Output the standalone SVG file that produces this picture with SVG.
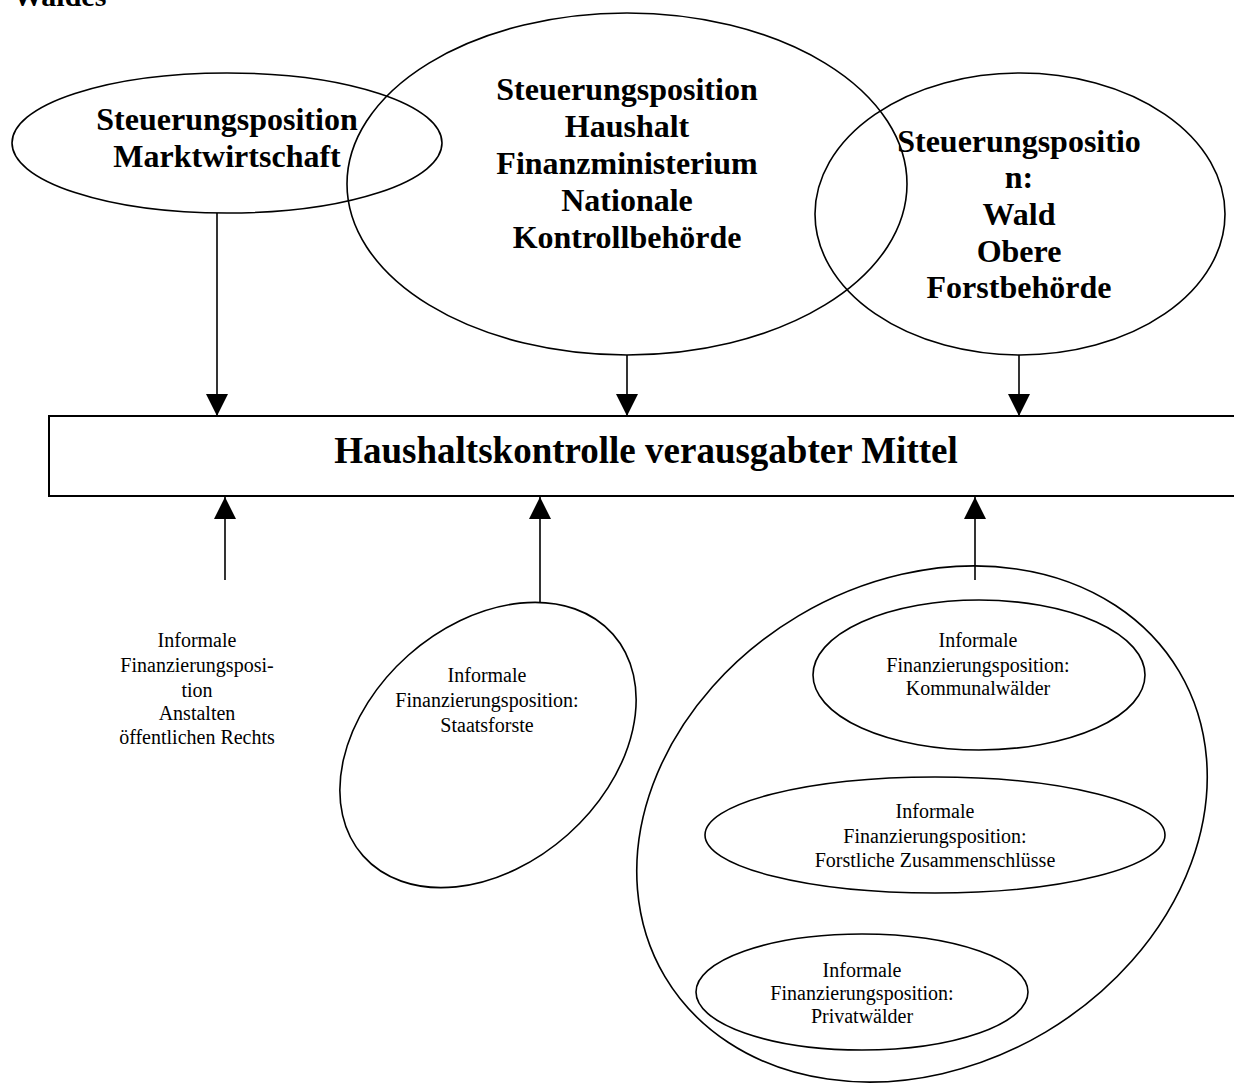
<svg xmlns="http://www.w3.org/2000/svg" width="1234" height="1084" viewBox="0 0 1234 1084">
<style>
text { font-family: "Liberation Serif", "Times New Roman", serif; fill: #000; text-anchor: middle; }
.b { font-weight: bold; font-size: 32px; }
.r { font-size: 20px; }
.shape { fill: none; stroke: #000; stroke-width: 1.6; }
.conn { fill: none; stroke: #000; stroke-width: 1.6; }
</style>
<defs>
<marker id="ah" markerUnits="userSpaceOnUse" markerWidth="22" markerHeight="22" viewBox="0 0 20 20" refX="20" refY="10" orient="auto">
<path d="M0,0 L20,10 L0,20 Z" fill="#000"/>
</marker>
</defs>
<rect width="1234" height="1084" fill="#fff"/>

<text class="b" x="13" y="6" style="text-anchor:start;font-size:30px">Waldes</text>

<g id="node-markt">
<ellipse class="shape" cx="227" cy="143" rx="215" ry="70"/>
<text class="b" x="227" y="130">Steuerungsposition</text>
<text class="b" x="227" y="167">Marktwirtschaft</text>
</g>

<g id="node-haushalt">
<ellipse class="shape" cx="627" cy="184" rx="280" ry="171"/>
<text class="b" x="627" y="100">Steuerungsposition</text>
<text class="b" x="627" y="137">Haushalt</text>
<text class="b" x="627" y="174">Finanzministerium</text>
<text class="b" x="627" y="211">Nationale</text>
<text class="b" x="627" y="248">Kontrollbehörde</text>
</g>

<g id="node-wald">
<ellipse class="shape" cx="1020" cy="214" rx="205" ry="141"/>
<text class="b" x="1019" y="152">Steuerungspositio</text>
<text class="b" x="1019" y="188">n:</text>
<text class="b" x="1019" y="225">Wald</text>
<text class="b" x="1019" y="262">Obere</text>
<text class="b" x="1019" y="298">Forstbehörde</text>
</g>

<g id="node-kontrolle">
<rect x="49" y="416" width="1200" height="80" fill="none" stroke="#000" stroke-width="2"/>
<text x="646" y="463" style="font-weight:bold;font-size:37px">Haushaltskontrolle verausgabter Mittel</text>
</g>

<g id="node-anstalten">
<text class="r" x="197" y="647">Informale</text>
<text class="r" x="197" y="672">Finanzierungsposi-</text>
<text class="r" x="197" y="697">tion</text>
<text class="r" x="197" y="720">Anstalten</text>
<text class="r" x="197" y="744">öffentlichen Rechts</text>
</g>

<g id="node-staatsforste">
<ellipse class="shape" cx="488" cy="745" rx="167" ry="120" transform="rotate(-41.6 488 745)" stroke-width="2"/>
<text class="r" x="487" y="682">Informale</text>
<text class="r" x="487" y="707">Finanzierungsposition:</text>
<text class="r" x="487" y="732">Staatsforste</text>
</g>

<g id="node-gruppe">
<ellipse class="shape" cx="922" cy="824" rx="299" ry="242" transform="rotate(-30.7 922 824)" stroke-width="2"/>
</g>

<g id="node-kommunal">
<ellipse class="shape" cx="979" cy="675" rx="166" ry="75"/>
<text class="r" x="978" y="647">Informale</text>
<text class="r" x="978" y="672">Finanzierungsposition:</text>
<text class="r" x="978" y="695">Kommunalwälder</text>
</g>

<g id="node-forstlich">
<ellipse class="shape" cx="935" cy="835" rx="230" ry="58"/>
<text class="r" x="935" y="818">Informale</text>
<text class="r" x="935" y="843">Finanzierungsposition:</text>
<text class="r" x="935" y="867">Forstliche Zusammenschlüsse</text>
</g>

<g id="node-privat">
<ellipse class="shape" cx="862" cy="992" rx="166" ry="58"/>
<text class="r" x="862" y="977">Informale</text>
<text class="r" x="862" y="1000">Finanzierungsposition:</text>
<text class="r" x="862" y="1023">Privatwälder</text>
</g>

<g id="connectors">
<line class="conn" x1="217" y1="213" x2="217" y2="416" marker-end="url(#ah)"/>
<line class="conn" x1="627" y1="355" x2="627" y2="416" marker-end="url(#ah)"/>
<line class="conn" x1="1019" y1="355" x2="1019" y2="416" marker-end="url(#ah)"/>
<line class="conn" x1="225" y1="580" x2="225" y2="497" marker-end="url(#ah)"/>
<line class="conn" x1="540" y1="603" x2="540" y2="497" marker-end="url(#ah)"/>
<line class="conn" x1="975" y1="580" x2="975" y2="497" marker-end="url(#ah)"/>
</g>
</svg>
